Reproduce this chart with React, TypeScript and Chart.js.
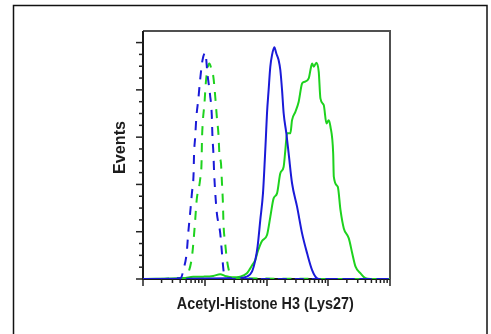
import React, { useEffect, useRef } from "react";
import { Chart, registerables } from "chart.js";

Chart.register(...registerables);

// ---- data (x: fluorescence intensity, log scale; y: events) ----
const blueDashedX = [1, 4.1, 4.5, 5.1, 5.4, 5.8, 6.2, 6.6, 6.7, 7.0, 7.3, 7.9, 8.4, 9.2, 10.2, 11.1, 12.2, 13.0, 13.3, 13.8, 14.2, 14.8, 15.7, 17.8, 19.0, 20.1, 21.4, 25.8, 10000];
const blueDashedY = [0, 0.4, 3.8, 11.0, 19.4, 27.9, 36.4, 44.8, 52.4, 60.0, 68.1, 76.5, 84.1, 92.6, 95.7, 86.3, 77.8, 69.3, 60.9, 53.3, 44.8, 36.4, 27.9, 19.4, 11.0, 3.8, 0.9, 0, 0];

const greenDashedX = [1, 4.8, 5.4, 6.2, 6.6, 7.0, 7.4, 8.4, 8.9, 9.0, 9.3, 9.9, 10.4, 11.1, 11.9, 12.7, 13.8, 14.8, 15.7, 16.7, 17.3, 18.3, 19.0, 19.7, 20.1, 21.4, 22.9, 25.8, 27.5, 10000];
const greenDashedY = [0, 0.4, 2.5, 9.3, 16.5, 24.9, 33.4, 41.9, 50.3, 57.9, 66.4, 74.4, 82.9, 89.2, 91.2, 89.2, 85.4, 77.0, 68.5, 60.9, 52.4, 49.0, 40.6, 32.1, 23.7, 15.2, 8.0, 1.7, 0.4, 0];

const blueSolidX = [1, 33.2, 48.2, 58.2, 65.8, 71.7, 79.3, 87.7, 93.8, 97.3, 101.9, 108.2, 115.3, 122.8, 133.9, 144.3, 157.1, 167.5, 178.6, 189.6, 209.6, 228.4, 259.2, 312.5, 376.8, 454.3, 547.8, 660.7, 750, 10000];
const blueSolidY = [0, 0.4, 1.0, 3.1, 8.0, 13.7, 24.9, 36.2, 50.3, 58.8, 70.1, 79.9, 89.8, 94.7, 98.0, 95.4, 92.6, 88.4, 79.9, 70.1, 61.6, 53.1, 40.5, 30.6, 19.3, 10.9, 3.8, 0.3, 0, 0];

const greenSolidX = [1, 4.5, 6.5, 9.4, 13.7, 17.8, 21.4, 27.5, 37.6, 48.2, 54.6, 58.8, 65.8, 71.7, 84.6, 101.9, 115.3, 130.4, 148.0, 167.5, 189.6, 201.9, 215.2, 243.4, 259.2, 293.6, 332.2, 376.8, 410.8, 482.4, 527.3, 547.8, 581.9, 643.3, 701.5, 746.8, 845.2, 935.3, 1019, 1086, 1202, 1230, 1426, 1577, 1786, 2153, 2444, 2767, 3337, 4018, 4842, 10000];
const greenSolidY = [0, 0.4, 0.9, 1.0, 1.3, 2.0, 1.3, 0.7, 1.0, 2.4, 4.5, 5.9, 8.0, 11.4, 16.1, 18.6, 26.3, 34.1, 36.2, 44.7, 47.5, 54.5, 61.6, 61.6, 67.2, 70.7, 75.0, 82.7, 83.4, 84.9, 89.8, 91.2, 89.8, 91.5, 87.6, 76.4, 73.6, 65.8, 67.2, 64.4, 53.1, 43.3, 39.0, 29.2, 21.4, 17.2, 10.9, 5.2, 2.4, 0.3, 0, 0];

const xDecades = [1, 10, 100, 1000, 10000];
const xMinorMultipliers = [2, 3, 4, 5, 6, 7, 8, 9];
const yMajorTicks = [0, 20, 40, 60, 80, 100];
const yMinorStep = 5;
const xAxisLabel = "Acetyl-Histone H3 (Lys27)";
const yAxisLabel = "Events";

const BLUE = "#1a1ad8";
const GREEN = "#1ed21e";

function pts(xs: number[], ys: number[]) {
  return xs.map((x, i) => ({ x, y: ys[i] }));
}

function drawScaledText(
  ctx: CanvasRenderingContext2D,
  text: string,
  cx: number,
  baseline: number,
  targetWidth: number,
  rotate: boolean
) {
  ctx.save();
  ctx.font = "bold 16px 'Liberation Sans', Arial, sans-serif";
  ctx.fillStyle = "#1c1c1c";
  ctx.textAlign = "center";
  ctx.textBaseline = "alphabetic";
  const w = ctx.measureText(text).width;
  const sx = targetWidth / w;
  if (rotate) {
    // cx = center along y, baseline = x of baseline
    ctx.translate(baseline, cx);
    ctx.rotate(-Math.PI / 2);
  } else {
    ctx.translate(cx, baseline);
  }
  ctx.scale(sx, 1);
  ctx.fillText(text, 0, 0);
  ctx.restore();
}

const framePlugin = {
  id: "framePlugin",
  beforeDatasetsDraw(chart: any) {
    const ctx: CanvasRenderingContext2D = chart.ctx;
    const { left, right, top, bottom } = chart.chartArea;
    const xs = chart.scales.x;
    const ys = chart.scales.y;
    ctx.save();
    // outer frame
    ctx.strokeStyle = "#111";
    ctx.lineWidth = 1.5;
    ctx.strokeRect(13.5, 5.5, 473.5, 400);
    // top & right border (grey)
    ctx.strokeStyle = "#505050";
    ctx.lineWidth = 2;
    ctx.beginPath();
    ctx.moveTo(left, top);
    ctx.lineTo(right, top);
    ctx.lineTo(right, bottom);
    ctx.stroke();
    // left & bottom axes
    ctx.strokeStyle = "#1a1a1a";
    ctx.beginPath();
    ctx.moveTo(left, top);
    ctx.lineTo(left, bottom);
    ctx.lineTo(right, bottom);
    ctx.stroke();
    // x ticks
    ctx.lineWidth = 1.5;
    ctx.strokeStyle = "#222";
    for (let i = 0; i < xDecades.length; i++) {
      const d = xDecades[i];
      const px = Math.round(xs.getPixelForValue(d));
      ctx.beginPath();
      ctx.moveTo(px, bottom);
      ctx.lineTo(px, bottom + 7);
      ctx.stroke();
      if (i < xDecades.length - 1) {
        for (const m of xMinorMultipliers) {
          const mx = xs.getPixelForValue(d * m);
          ctx.beginPath();
          ctx.moveTo(mx, bottom);
          ctx.lineTo(mx, bottom + 4);
          ctx.stroke();
        }
      }
    }
    // y ticks
    for (let v = 0; v <= 100; v += yMinorStep) {
      const py = ys.getPixelForValue(v);
      const major = yMajorTicks.includes(v);
      ctx.beginPath();
      ctx.moveTo(left, py);
      ctx.lineTo(left - (major ? 7 : 4), py);
      ctx.stroke();
    }
    ctx.restore();
    // axis labels
    drawScaledText(ctx, xAxisLabel, 265.3, 308.5, 177, false);
    drawScaledText(ctx, yAxisLabel, 147.5, 125, 53, true);
  },
};

export default function App() {
  const ref = useRef<HTMLCanvasElement | null>(null);
  useEffect(() => {
    if (!ref.current) return;
    const common = {
      borderWidth: 2,
      pointRadius: 0,
      fill: false,
      cubicInterpolationMode: "monotone" as const,
    };
    const chart = new Chart(ref.current, {
      type: "line",
      data: {
        datasets: [
          { ...common, label: "isotype blue", data: pts(blueDashedX, blueDashedY), borderColor: BLUE, borderDash: [9, 8] },
          { ...common, label: "isotype green", data: pts(greenDashedX, greenDashedY), borderColor: GREEN, borderDash: [9, 8] },
          { ...common, label: "blue", data: pts(blueSolidX, blueSolidY), borderColor: BLUE },
          { ...common, label: "green", data: pts(greenSolidX, greenSolidY), borderColor: GREEN },
        ],
      },
      options: {
        animation: false,
        responsive: false,
        events: [],
        layout: { padding: { left: 143, top: 31, right: 101, bottom: 55 } },
        plugins: { legend: { display: false }, tooltip: { enabled: false }, title: { display: false } },
        scales: {
          x: { type: "logarithmic", min: 1, max: 10000, display: false },
          y: { type: "linear", min: 0, max: 104.9, display: false },
        },
      },
      plugins: [framePlugin],
    });
    return () => chart.destroy();
  }, []);
  return (
    <div style={{ position: "absolute", left: 0, top: 0, width: 491, height: 334, background: "#fff" }}>
      <canvas ref={ref} width={491} height={334} style={{ display: "block", width: 491, height: 334 }} />
    </div>
  );
}
